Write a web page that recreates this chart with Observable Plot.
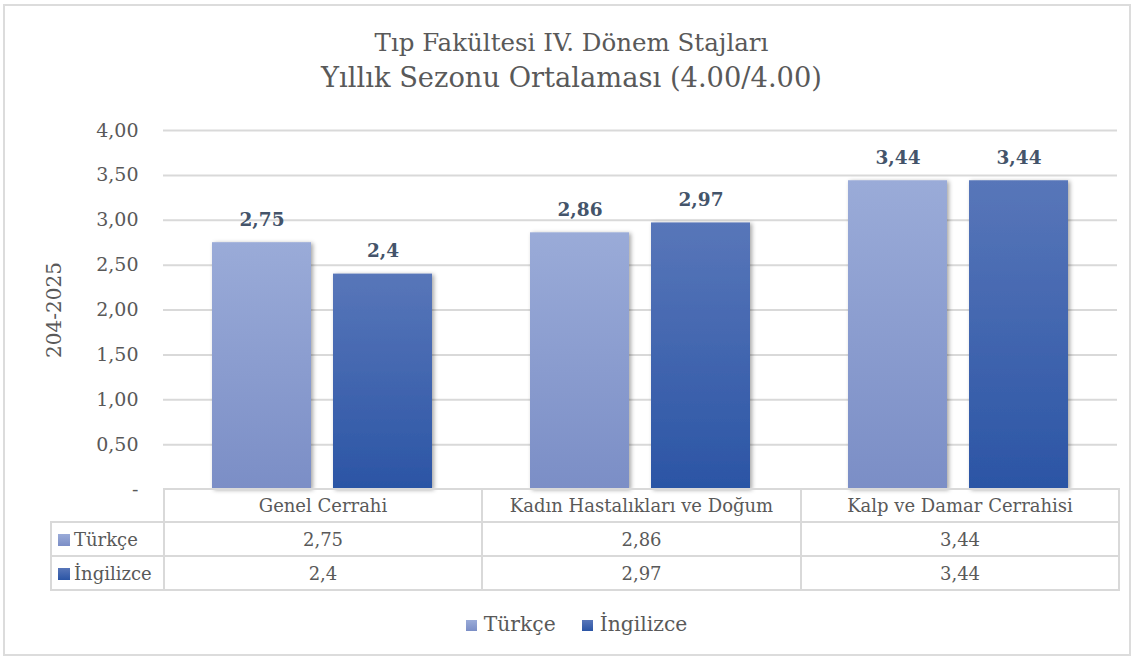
<!DOCTYPE html>
<html><head><meta charset="utf-8">
<script src="https://cdn.jsdelivr.net/npm/d3@7"></script>
<script src="https://cdn.jsdelivr.net/npm/@observablehq/plot@0.6"></script>
<style>
body{margin:0;background:#fff;}
#chart{position:relative;width:1137px;height:659px;font-family:"DejaVu Serif",serif;color:#595959;overflow:hidden;}
#frame{position:absolute;left:3px;top:4px;width:1128px;height:652px;border:2px solid #dcdcdc;box-sizing:border-box;}
#title{position:absolute;left:0;top:26px;width:1137px;text-align:center;padding-left:6px;box-sizing:border-box;}
#title .l1{font-size:24.5px;line-height:34px;}
#title .l2{font-size:27.3px;line-height:36px;}
#plot{position:absolute;left:0;top:110px;}
#tbl{position:absolute;left:50px;top:488px;border-collapse:collapse;table-layout:fixed;width:1068px;font-size:18px;}
#tbl td{border:2px solid #d9d9d9;text-align:center;padding:0;overflow:hidden;white-space:nowrap;}
#tbl tr.h td{height:31px;}
#tbl tr.r td{height:32px;}
#tbl td.key{text-align:left;padding-left:6px;font-size:18px;}
#tbl td.blank{border-top:none;border-left:none;}
.sw{display:inline-block;width:12px;height:12px;margin-right:4px;vertical-align:0px;}
#legend{position:absolute;left:0;top:612px;width:1137px;text-align:center;font-size:20.3px;padding-left:16px;box-sizing:border-box;}
#legend span.item{margin:0 13px;}
#legend .sw{width:11px;height:11px;margin-right:7px;}
</style>
</head><body>
<div id="chart">
  <div id="frame"></div>
  <div id="title"><div class="l1">Tıp Fakültesi IV. Dönem Stajları</div><div class="l2">Yıllık Sezonu Ortalaması (4.00/4.00)</div></div>
  <div id="plot"></div>
  <table id="tbl"><colgroup><col style="width:113px"><col style="width:318px"><col style="width:319px"><col style="width:318px"></colgroup></table>
  <div id="legend"></div>
</div>
<script>
const categories = ["Genel Cerrahi", "Kadın Hastalıkları ve Doğum", "Kalp ve Damar Cerrahisi"];
const series = ["Türkçe", "İngilizce"];
const turkce = [2.75, 2.86, 3.44];
const ingilizce = [2.4, 2.97, 3.44];
const yTicks = [0, 0.5, 1, 1.5, 2, 2.5, 3, 3.5, 4];
const yTitle = "204-2025";

const seriesValues = [turkce, ingilizce];
const gradIds = ["gT", "gE"];
const stops = [["#9aabd8", "#7b8ec6"], ["#5876b9", "#2b55a5"]];
const cssGrad = stops.map(s => `linear-gradient(${s[0]},${s[1]})`);
const data = [];
categories.forEach((c, i) => series.forEach((s, j) => data.push({cat: c, ser: s, val: seriesValues[j][i]})));
const fmt = v => String(v).replace(".", ",");

const plot = Plot.plot({
  width: 1137,
  height: 400,
  marginLeft: 162,
  marginRight: 20,
  marginTop: 20,
  marginBottom: 21,
  style: {fontFamily: "DejaVu Serif, serif", fontSize: "18px", color: "#595959", background: "transparent"},
  fx: {domain: categories, padding: 0, axis: null},
  x: {domain: series, paddingInner: 0.18, paddingOuter: 0.394, axis: null},
  y: {domain: [0, 4], ticks: yTicks, grid: false},
  color: {domain: series, range: gradIds.map(id => `url(#${id})`)},
  marks: [
    Plot.gridY(yTicks.filter(d => d > 0), {stroke: "#d9d9d9", strokeOpacity: 1, strokeWidth: 2}),
    Plot.axisY({ticks: yTicks, tickSize: 0, tickPadding: 25, fontSize: 19,
      tickFormat: d => d === 0 ? "-" : d.toFixed(2).replace(".", ","),
      label: yTitle, labelAnchor: "center", labelArrow: "none", labelOffset: 117}),
    Plot.barY(data, {fx: "cat", x: "ser", y: "val", fill: "ser"}),
    Plot.text(data, {fx: "cat", x: "ser", y: "val", text: d => fmt(d.val), lineAnchor: "bottom", dy: -17,
      fill: "#44546a", fontWeight: "bold", fontSize: 18.5})
  ]
});

// gradients + shadow
const svg = d3.select(plot);
const defs = svg.insert("defs", ":first-child");
gradIds.forEach((id, i) => {
  const g = defs.append("linearGradient").attr("id", id).attr("x1", 0).attr("y1", 0).attr("x2", 0).attr("y2", 1);
  g.append("stop").attr("offset", "0%").attr("stop-color", stops[i][0]);
  g.append("stop").attr("offset", "100%").attr("stop-color", stops[i][1]);
});
const f = defs.append("filter").attr("id", "shadow").attr("x", "-10%").attr("y", "-10%").attr("width", "130%").attr("height", "130%");
f.append("feDropShadow").attr("dx", 2).attr("dy", 1).attr("stdDeviation", 2).attr("flood-color", "#000").attr("flood-opacity", 0.35);
svg.selectAll("g[aria-label='bar'] rect").attr("filter", "url(#shadow)");
svg.selectAll("g[aria-label='y-axis label'] text").attr("font-size", 20);
document.getElementById("plot").appendChild(plot);

// data table
const tbl = d3.select("#tbl");
const head = tbl.append("tr").attr("class", "h");
head.append("td").attr("class", "blank key");
categories.forEach(c => head.append("td").text(c));
series.forEach((s, j) => {
  const tr = tbl.append("tr").attr("class", "r");
  const k = tr.append("td").attr("class", "key");
  k.append("span").attr("class", "sw").style("background", cssGrad[j]);
  k.append("span").text(s);
  seriesValues[j].forEach(v => tr.append("td").text(fmt(v)));
});

// legend
const lg = d3.select("#legend");
series.forEach((s, j) => {
  const it = lg.append("span").attr("class", "item");
  it.append("span").attr("class", "sw").style("background", cssGrad[j]);
  it.append("span").text(s);
});
</script>
</body></html>
